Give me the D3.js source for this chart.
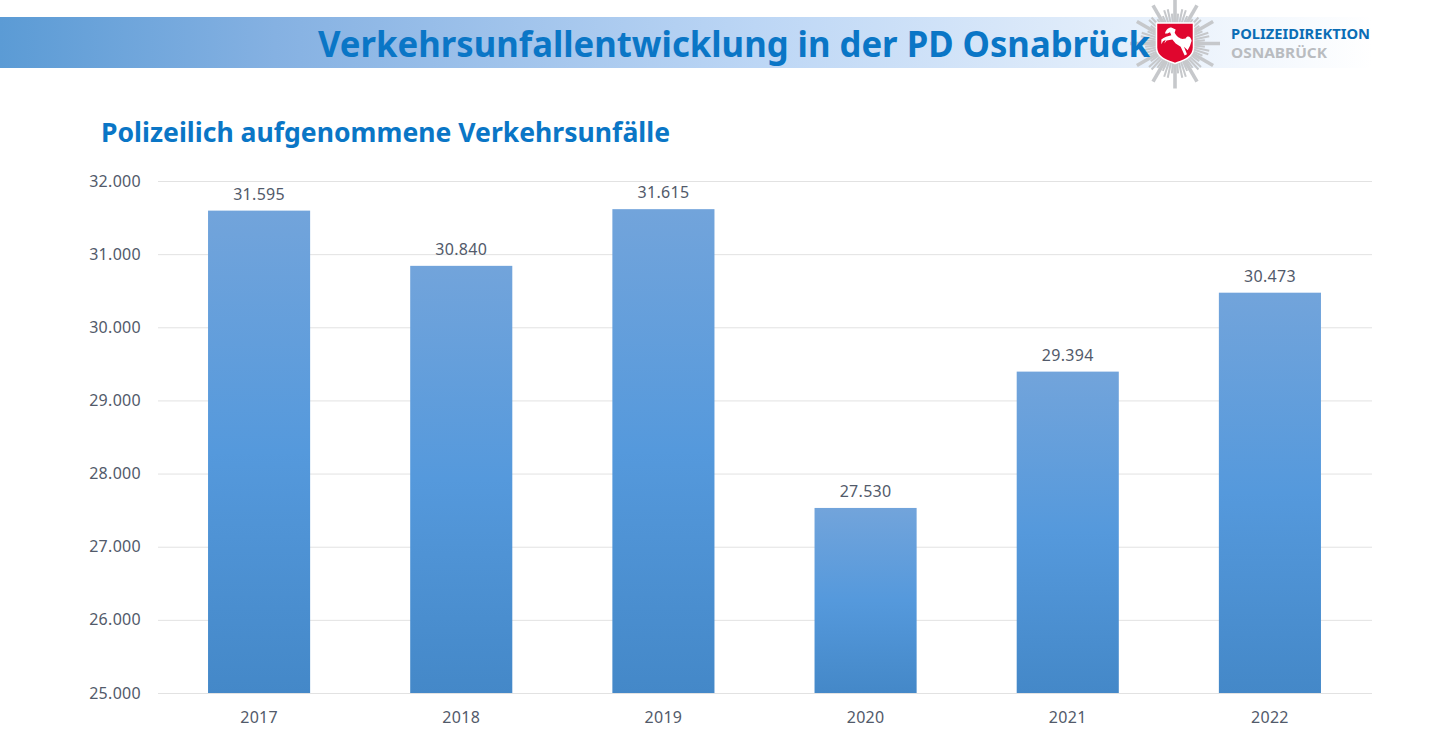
<!DOCTYPE html>
<html>
<head>
<meta charset="utf-8">
<script src="https://cdnjs.cloudflare.com/ajax/libs/d3/7.8.5/d3.min.js"></script>
<style>
  html, body { margin: 0; padding: 0; background: #fff; }
  svg { display: block; }
  text { font-family: "Noto Sans", "Open Sans", sans-serif; }
</style>
</head>
<body>
<div id="chart"></div>
<script>
const years = ["2017", "2018", "2019", "2020", "2021", "2022"];
const accidents = [31595, 30840, 31615, 27530, 29394, 30473];
const valueLabels = ["31.595", "30.840", "31.615", "27.530", "29.394", "30.473"];
const tickValues = [25000, 26000, 27000, 28000, 29000, 30000, 31000, 32000];
const tickLabels = ["25.000", "26.000", "27.000", "28.000", "29.000", "30.000", "31.000", "32.000"];

const svg = d3.select("#chart").append("svg")
    .attr("width", 1430)
    .attr("height", 756);

const defs = svg.append("defs");

// header band, blue fading out to white on the right
const bandGrad = defs.append("linearGradient").attr("id", "band");
bandGrad.append("stop").attr("offset", "0").attr("stop-color", "#5b9bd5");
bandGrad.append("stop").attr("offset", "0.2").attr("stop-color", "#85b1e2");
bandGrad.append("stop").attr("offset", "0.55").attr("stop-color", "#bcd6f5");
bandGrad.append("stop").attr("offset", "1").attr("stop-color", "#ffffff");

// bars: light on top, strongest in the middle, darker at the bottom
const barGrad = defs.append("linearGradient").attr("id", "bar")
    .attr("x1", 0).attr("x2", 0).attr("y1", 0).attr("y2", 1);
barGrad.append("stop").attr("offset", "0").attr("stop-color", "#72a4db");
barGrad.append("stop").attr("offset", "0.5").attr("stop-color", "#5599dc");
barGrad.append("stop").attr("offset", "1").attr("stop-color", "#4488c8");

svg.append("rect")
    .attr("x", 0).attr("y", 17)
    .attr("width", 1372).attr("height", 51)
    .attr("fill", "url(#band)");

// police star logo, goes under the title
const logo = svg.append("g").attr("transform", "translate(1175,43.5)");
d3.range(0, 360, 6).forEach(a => {
    const major = a % 30 === 0;
    const long = major ? (a % 90 === 0 ? 45 : 44) : (a % 30 === 6 || a % 30 === 24 ? 30 : 35);
    logo.append("line")
        .attr("y2", -long)
        .attr("transform", `rotate(${a})`)
        .attr("stroke", "#c6c8cb")
        .attr("stroke-width", major ? 3.6 : 2);
});
logo.append("path")
    .attr("d", "M-18.5,-20.5 H18.5 V4 C18.5,14 8,17 0,20 C-8,17 -18.5,14 -18.5,4 Z")
    .attr("fill", "#e0062e")
    .attr("stroke", "#fff")
    .attr("stroke-width", 1.5);
logo.append("path")
    .attr("transform", "scale(0.3333) translate(-133,-130)")
    .attr("d", "M122,82 C112,82 105,90 103,100 L110,100 L118,96 L122,105 C112,108 100,110 92,118 L92,132 L97,123 L105,119 L101,130 L108,121 L125,118 L135,130 L150,140 L162,166 L169,162 L160,140 L171,150 L178,137 L183,122 C180,108 170,105 165,115 L160,116 C150,118 138,110 132,98 L135,88 Z")
    .attr("fill", "#fff");

svg.append("text")
    .attr("x", 318).attr("y", 57)
    .attr("font-size", 35)
    .attr("font-weight", 700)
    .attr("textLength", 832)
    .attr("lengthAdjust", "spacingAndGlyphs")
    .attr("fill", "#0a76c6")
    .text("Verkehrsunfallentwicklung in der PD Osnabrück");

svg.append("text")
    .attr("x", 101).attr("y", 142)
    .attr("font-size", 26)
    .attr("font-weight", 700)
    .attr("textLength", 569)
    .attr("lengthAdjust", "spacingAndGlyphs")
    .attr("fill", "#0a76c6")
    .text("Polizeilich aufgenommene Verkehrsunfälle");

svg.append("text")
    .attr("x", 1231).attr("y", 38.5)
    .attr("font-size", 14.5).attr("font-weight", 700)
    .attr("textLength", 139).attr("lengthAdjust", "spacingAndGlyphs")
    .attr("fill", "#0b6db5")
    .text("POLIZEIDIREKTION");
svg.append("text")
    .attr("x", 1231).attr("y", 58)
    .attr("font-size", 14.5).attr("font-weight", 700)
    .attr("textLength", 96).attr("lengthAdjust", "spacingAndGlyphs")
    .attr("fill", "#b9bcc0")
    .text("OSNABRÜCK");

// chart
const x = d3.scaleBand().domain(years).range([158, 1371]).paddingInner(0.495).paddingOuter(0.2475);
const y = d3.scaleLinear().domain([25000, 32000]).range([693, 181]);

svg.selectAll(".grid")
    .data(tickValues)
    .join("line")
    .attr("class", "grid")
    .attr("x1", 158).attr("x2", 1372)
    .attr("y1", d => y(d) + 0.5).attr("y2", d => y(d) + 0.5)
    .attr("stroke", "#e2e2e2");

svg.selectAll(".bar")
    .data(accidents)
    .join("rect")
    .attr("class", "bar")
    .attr("x", (d, i) => x(years[i]))
    .attr("y", d => y(d))
    .attr("width", x.bandwidth())
    .attr("height", d => y(25000) - y(d))
    .attr("fill", "url(#bar)");

svg.selectAll(".value")
    .data(accidents)
    .join("text")
    .attr("class", "value")
    .attr("x", (d, i) => x(years[i]) + x.bandwidth() / 2)
    .attr("y", d => y(d) - 11)
    .attr("text-anchor", "middle")
    .attr("font-size", 16)
    .attr("letter-spacing", 0.3)
    .attr("fill", "#525a6a")
    .text((d, i) => valueLabels[i]);

const yAxis = d3.axisLeft(y)
    .tickValues(tickValues)
    .tickFormat((d, i) => tickLabels[i])
    .tickSize(0)
    .tickPadding(17);
const yG = svg.append("g").attr("transform", "translate(158,0)").call(yAxis);
yG.select(".domain").remove();
yG.selectAll("text").attr("font-size", 16).attr("letter-spacing", 0.3).attr("fill", "#525a6a").style("font-family", '"Noto Sans", sans-serif');

const xAxis = d3.axisBottom(x).tickSize(0).tickPadding(19);
const xG = svg.append("g").attr("transform", "translate(0,693)").call(xAxis);
xG.select(".domain").remove();
xG.selectAll("text").attr("font-size", 16).attr("letter-spacing", 0.3).attr("fill", "#525a6a").style("font-family", '"Noto Sans", sans-serif');
</script>
</body>
</html>
